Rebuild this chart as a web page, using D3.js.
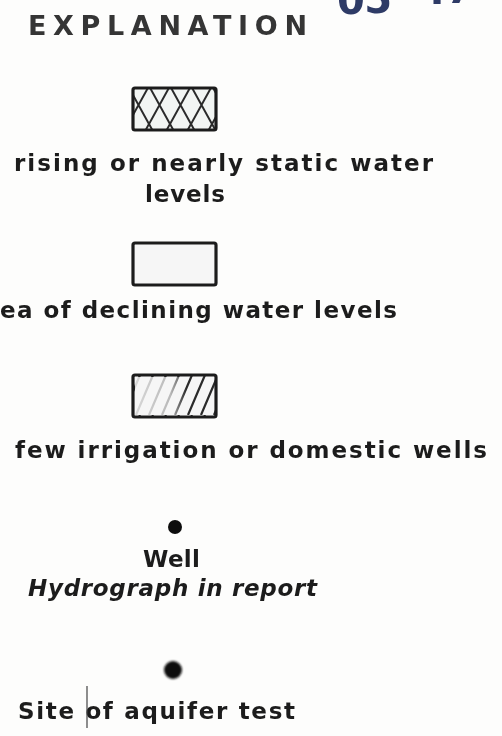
<!DOCTYPE html>
<html>
<head>
<meta charset="utf-8">
<script src="https://cdn.jsdelivr.net/npm/d3@7"></script>
<style>
  html, body { margin: 0; padding: 0; background: #fdfdfc; overflow: hidden; }
  text { font-family: 'DejaVu Sans', sans-serif; fill: #1f1f1f; }
</style>
</head>
<body>
<div id="explanation-d3"></div>
<script>
// legend content (as much of each line as the sheet shows)
const title = 'EXPLANATION';
const stampChars = ['0', '5', '-', '4', '7'];
const areaPatterns = ['crosshatch', 'blank', 'diagonal'];
const areaLabels = [
  ['rising or nearly static water', 'levels'],
  ['ea of declining water levels'],
  ['few irrigation or domestic wells'],
];
const pointSymbols = ['well', 'aquifer'];
const pointLabels = [
  ['Well', 'Hydrograph in report'],
  ['Site of aquifer test'],
];

const makeLegend = () => {
  const container = d3.select('#explanation-d3');
  container.selectAll('*').remove();

  const size = { width: 502, height: 736 };
  const svg = container.append('svg')
    .attr('width', size.width)
    .attr('height', size.height);

  const defs = svg.append('defs');

  // blur for the scanned look
  defs.append('filter').attr('id', 'soft')
    .append('feGaussianBlur').attr('stdDeviation', 0.55);
  defs.append('filter').attr('id', 'softer')
    .append('feGaussianBlur').attr('stdDeviation', 1.3);

  // cross hatch (rising / static)
  const cross = defs.append('pattern')
    .attr('id', 'crosshatch')
    .attr('patternUnits', 'userSpaceOnUse')
    .attr('width', 21).attr('height', 38)
    .attr('x', 128).attr('y', 86);
  cross.append('rect').attr('width', 21).attr('height', 38).attr('fill', '#f2f5f3');
  cross.append('path').attr('d', 'M0,0 L21,38 M21,0 L0,38')
    .attr('stroke', '#2a2a2a').attr('stroke-width', 2).attr('fill', 'none');

  // diagonal hatch (few wells)
  const diag = defs.append('pattern')
    .attr('id', 'diagonal')
    .attr('patternUnits', 'userSpaceOnUse')
    .attr('width', 13).attr('height', 40)
    .attr('x', 131).attr('y', 375);
  diag.append('path').attr('d', 'M-21,40 L-4,0 M-8,40 L9,0 M5,40 L22,0')
    .attr('stroke', '#2a2a2a').attr('stroke-width', 2.2);

  const diagFade = defs.append('linearGradient').attr('id', 'diag-fade');
  diagFade.append('stop').attr('offset', '0%').attr('stop-color', '#f6f6f6').attr('stop-opacity', 0.85);
  diagFade.append('stop').attr('offset', '45%').attr('stop-color', '#f6f6f6').attr('stop-opacity', 0.7);
  diagFade.append('stop').attr('offset', '65%').attr('stop-color', '#f6f6f6').attr('stop-opacity', 0);

  /**
   * Title and stamp
   */
  svg.append('text')
    .text(title)
    .attr('x', 28).attr('y', 35)
    .attr('textLength', 279)
    .attr('lengthAdjust', 'spacing')
    .style('font-size', '27px')
    .style('font-weight', 'bold')
    .style('fill', '#353535')
    .attr('filter', 'url(#soft)');

  // handwritten sheet number, mostly off the top edge
  const stampX = d3.scalePoint().domain(d3.range(stampChars.length)).range([351, 460]);
  const stampLift = [0, 1, 14, 10, 11];
  svg.append('g')
    .attr('filter', 'url(#soft)')
    .selectAll('text')
    .data(stampChars)
    .enter()
    .append('text')
    .text((d) => d)
    .attr('x', (d, i) => stampX(i))
    .attr('y', (d, i) => 14 - stampLift[i])
    .attr('text-anchor', 'middle')
    .style('font-size', '40px')
    .style('font-weight', 'bold')
    .style('fill', '#2f3a66');

  /**
   * Area swatches
   */
  const swatchY = d3.scaleOrdinal().domain(areaPatterns).range([88, 243, 375]);
  const swatchW = 83;
  const swatchH = 42;

  const swatches = svg.append('g').selectAll('g')
    .data(areaPatterns)
    .enter()
    .append('g')
    .attr('filter', 'url(#soft)');

  swatches.filter((d) => d === 'diagonal')
    .append('rect')
    .attr('x', 133)
    .attr('y', (d) => swatchY(d))
    .attr('width', swatchW)
    .attr('height', swatchH)
    .attr('fill', '#f6f6f6');

  swatches.append('rect')
    .attr('x', 133)
    .attr('y', (d) => swatchY(d))
    .attr('width', swatchW)
    .attr('height', swatchH)
    .attr('rx', 2)
    .attr('fill', (d) => (d === 'blank' ? '#f6f6f6' : `url(#${d})`))
    .attr('stroke', '#1e1e1e')
    .attr('stroke-width', 3.2);

  swatches.filter((d) => d === 'diagonal')
    .append('rect')
    .attr('x', 135)
    .attr('y', (d) => swatchY(d) + 2)
    .attr('width', swatchW - 4)
    .attr('height', swatchH - 4)
    .attr('fill', 'url(#diag-fade)');

  // label lines: [x, baseline, width] per line
  const areaLines = [
    [[14, 171, 419], [145, 202, 80]],
    [[0, 318, 397]],
    [[15, 458, 472]],
  ];

  areaLabels.forEach((lines, i) => {
    lines.forEach((line, j) => {
      const [x, y, w] = areaLines[i][j];
      svg.append('text')
        .text(line)
        .attr('x', x).attr('y', y)
        .attr('textLength', w)
        .attr('lengthAdjust', 'spacing')
        .style('font-size', '23px')
        .style('font-weight', 'bold')
        .attr('filter', 'url(#soft)');
    });
  });

  /**
   * Point symbols
   */
  const dots = { well: [175, 527, 7], aquifer: [173, 670, 9] };
  svg.append('g').selectAll('circle')
    .data(pointSymbols)
    .enter()
    .append('circle')
    .attr('cx', (d) => dots[d][0])
    .attr('cy', (d) => dots[d][1])
    .attr('r', (d) => dots[d][2])
    .attr('fill', '#111')
    .attr('filter', (d) => (d === 'aquifer' ? 'url(#softer)' : 'url(#soft)'));

  const pointLines = [
    [[143, 567, 57, 'bold', 'normal'], [28, 596, 289, 'bold', 'italic']],
    [[18, 719, 277, 'bold', 'normal']],
  ];

  pointLabels.forEach((lines, i) => {
    lines.forEach((line, j) => {
      const [x, y, w, weight, style] = pointLines[i][j];
      svg.append('text')
        .text(line)
        .attr('x', x).attr('y', y)
        .attr('textLength', w)
        .attr('lengthAdjust', 'spacing')
        .style('font-size', '23px')
        .style('font-weight', weight)
        .style('font-style', style)
        .attr('filter', 'url(#soft)');
    });
  });

  // stray pen mark through "of"
  svg.append('line')
    .attr('x1', 87).attr('x2', 87)
    .attr('y1', 686).attr('y2', 728)
    .attr('stroke', '#444')
    .attr('stroke-width', 1.2);
};

makeLegend();
</script>
</body>
</html>
